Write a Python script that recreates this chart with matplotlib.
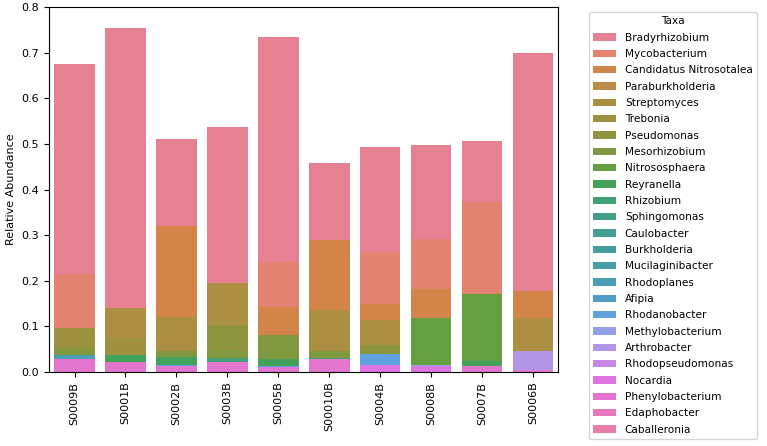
import numpy as np
import pandas as pd
import matplotlib
matplotlib.use("Agg")
import matplotlib.pyplot as plt
import seaborn as sns

samples = ["S0009B", "S0001B", "S0002B", "S0003B", "S0005B",
           "S00010B", "S0004B", "S0008B", "S0007B", "S0006B"]

taxa = ["Bradyrhizobium", "Mycobacterium", "Candidatus Nitrosotalea",
        "Paraburkholderia", "Streptomyces", "Trebonia", "Pseudomonas",
        "Mesorhizobium", "Nitrososphaera", "Reyranella", "Rhizobium",
        "Sphingomonas", "Caulobacter", "Burkholderia", "Mucilaginibacter",
        "Rhodoplanes", "Afipia", "Rhodanobacter", "Methylobacterium",
        "Arthrobacter", "Rhodopseudomonas", "Nocardia", "Phenylobacterium",
        "Edaphobacter", "Caballeronia"]

# relative abundance per taxon, one value per sample (same order as samples)
bradyrhizobium    = [0.676, 0.755, 0.510, 0.537, 0.734, 0.459, 0.493, 0.498, 0.506, 0.700]
mycobacterium     = [0.215, 0.060, 0.090, 0.080, 0.242, 0.110, 0.262, 0.291, 0.372, 0.090]
candidatus_nitro  = [0.070, 0.000, 0.320, 0.000, 0.143, 0.289, 0.148, 0.181, 0.150, 0.178]
paraburkholderia  = [0.000, 0.000, 0.000, 0.000, 0.000, 0.000, 0.000, 0.000, 0.000, 0.000]
streptomyces      = [0.000, 0.140, 0.120, 0.195, 0.000, 0.136, 0.113, 0.000, 0.000, 0.118]
trebonia          = [0.097, 0.075, 0.000, 0.000, 0.000, 0.000, 0.000, 0.000, 0.000, 0.000]
pseudomonas       = [0.055, 0.000, 0.000, 0.103, 0.000, 0.000, 0.060, 0.000, 0.000, 0.000]
mesorhizobium     = [0.045, 0.000, 0.047, 0.045, 0.080, 0.047, 0.000, 0.000, 0.000, 0.000]
nitrososphaera    = [0.000, 0.000, 0.000, 0.000, 0.000, 0.000, 0.000, 0.119, 0.170, 0.000]
reyranella        = [0.000, 0.038, 0.032, 0.000, 0.028, 0.030, 0.000, 0.000, 0.025, 0.000]
rhizobium         = [0.000, 0.000, 0.000, 0.030, 0.000, 0.000, 0.000, 0.000, 0.000, 0.000]
sphingomonas      = [0.000] * 10
caulobacter       = [0.000] * 10
burkholderia      = [0.000] * 10
mucilaginibacter  = [0.000] * 10
rhodoplanes       = [0.037, 0.000, 0.000, 0.000, 0.000, 0.000, 0.000, 0.000, 0.000, 0.000]
afipia            = [0.000] * 10
rhodanobacter     = [0.000, 0.000, 0.015, 0.000, 0.013, 0.000, 0.040, 0.000, 0.000, 0.000]
methylobacterium  = [0.000, 0.000, 0.000, 0.000, 0.000, 0.000, 0.000, 0.016, 0.000, 0.000]
arthrobacter      = [0.000, 0.000, 0.000, 0.000, 0.000, 0.000, 0.000, 0.000, 0.000, 0.047]
rhodopseudomonas  = [0.000] * 10
nocardia          = [0.000, 0.000, 0.000, 0.000, 0.000, 0.000, 0.016, 0.012, 0.000, 0.000]
phenylobacterium  = [0.028, 0.022, 0.012, 0.022, 0.010, 0.028, 0.000, 0.000, 0.012, 0.005]
edaphobacter      = [0.000] * 10
caballeronia      = [0.000] * 10

values = [bradyrhizobium, mycobacterium, candidatus_nitro, paraburkholderia,
          streptomyces, trebonia, pseudomonas, mesorhizobium, nitrososphaera,
          reyranella, rhizobium, sphingomonas, caulobacter, burkholderia,
          mucilaginibacter, rhodoplanes, afipia, rhodanobacter,
          methylobacterium, arthrobacter, rhodopseudomonas, nocardia,
          phenylobacterium, edaphobacter, caballeronia]

rows = []
for name, vals in zip(taxa, values):
    for s, v in zip(samples, vals):
        rows.append({"Sample": s, "Taxa": name, "Relative Abundance": v})
df = pd.DataFrame(rows)

fig = plt.figure(figsize=(7.67, 4.46), dpi=100)
ax = fig.add_axes([0.064, 0.166, 0.664, 0.818])

sns.barplot(data=df, x="Sample", y="Relative Abundance", hue="Taxa",
            hue_order=taxa, order=samples, palette="husl", dodge=False,
            errorbar=None, ax=ax)

ax.set_ylim(0, 0.8)
ax.set_xlabel("")
ax.set_ylabel("Relative Abundance", fontsize=8)
ax.tick_params(axis="both", labelsize=8)
plt.setp(ax.get_xticklabels(), rotation=90)

ax.legend(title="Taxa", bbox_to_anchor=(1.06, 0.986), loc="upper left",
          fontsize=7.6, title_fontsize=7.6, labelspacing=0.6,
          handlelength=2.2, borderaxespad=0.0)

fig.savefig("out.png", dpi=100)
